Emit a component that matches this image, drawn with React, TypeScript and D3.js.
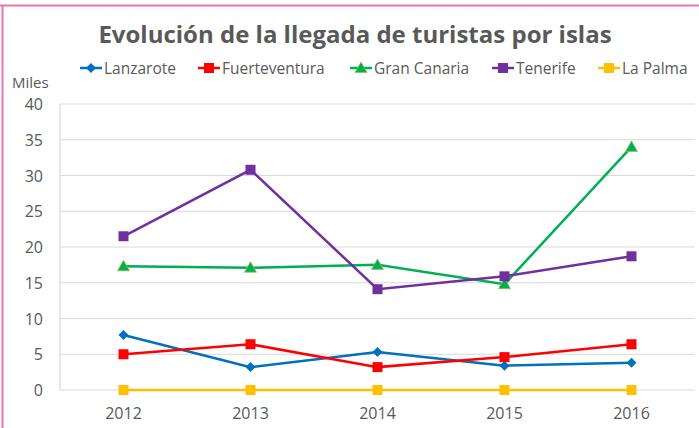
import React from "react";
import * as d3 from "d3";

const years = ["2012", "2013", "2014", "2015", "2016"];
const lanzarote = [7.7, 3.2, 5.3, 3.4, 3.8];
const fuerteventura = [5.0, 6.4, 3.2, 4.6, 6.4];
const granCanaria = [17.3, 17.1, 17.5, 14.8, 34.0];
const tenerife = [21.5, 30.8, 14.1, 15.9, 18.7];
const laPalma = [0, 0, 0, 0, 0];
const yTicks = [0, 5, 10, 15, 20, 25, 30, 35, 40];

const seriesNames = ["Lanzarote", "Fuerteventura", "Gran Canaria", "Tenerife", "La Palma"];
const seriesColors = ["#0070c0", "#ff0000", "#00b050", "#7030a0", "#ffc000"];
const seriesMarkers = ["diamond", "square", "triangle", "square", "square"];
const seriesData = [lanzarote, fuerteventura, granCanaria, tenerife, laPalma];

const W = 699, H = 428;
const FONT = "'Open Sans', 'Liberation Sans', sans-serif";

function Marker({ type, x, y, color }: { type: string; x: number; y: number; color: string }) {
  if (type === "diamond") {
    const s = 5;
    return <path d={`M${x},${y - s}L${x + s},${y}L${x},${y + s}L${x - s},${y}Z`} fill={color} />;
  }
  if (type === "triangle") {
    const s = 6;
    return <path d={`M${x},${y - s}L${x + s},${y + s * 0.75}L${x - s},${y + s * 0.75}Z`} fill={color} stroke="#9bbb59" strokeWidth={0.8} />;
  }
  const s = 5;
  return <rect x={x - s} y={y - s} width={2 * s} height={2 * s} fill={color} />;
}

export default function App() {
  const x = d3.scaleBand().domain(years).range([60, 695]);
  const y = d3.scaleLinear().domain([0, 40]).range([390, 104]);
  const cx = (yr: string) => (x(yr) as number) + x.bandwidth() / 2;
  const line = d3.line<number>().x((_, i) => cx(years[i])).y((v) => y(v));

  const legendX = [80, 198, 350, 492, 598];

  return (
    <svg width={W} height={H} style={{ position: "absolute", left: 0, top: 0, background: "#fff" }} fontFamily={FONT}>
      <line x1={0} x2={W} y1={5.5} y2={5.5} stroke="#e377b0" strokeWidth={2} />
      <line x1={2.5} x2={2.5} y1={5} y2={H} stroke="#e377b0" strokeWidth={2} />
      <text x={355} y={43} textAnchor="middle" fontSize={24} fontWeight="bold" fill="#595959">
        Evolución de la llegada de turistas por islas
      </text>
      {seriesNames.map((n, i) => (
        <g key={n} transform={`translate(${legendX[i]},68)`}>
          <line x1={0} x2={22} y1={0} y2={0} stroke={seriesColors[i]} strokeWidth={2.5} />
          <Marker type={seriesMarkers[i]} x={11} y={0} color={seriesColors[i]} />
          <text x={24} y={5.5} fontSize={15.5} fill="#595959">{n}</text>
        </g>
      ))}
      <text x={12} y={88} fontSize={15} fill="#595959">Miles</text>
      {yTicks.map((t) => (
        <g key={t}>
          <line x1={60} x2={695} y1={y(t)} y2={y(t)} stroke="#d9d9d9" strokeWidth={1.2} />
          <text x={43} y={y(t) + 6} textAnchor="end" fontSize={16} fill="#595959">{t}</text>
        </g>
      ))}
      <line x1={60} x2={60} y1={104} y2={390} stroke="#d9d9d9" strokeWidth={1.2} />
      {years.map((yr) => (
        <text key={yr} x={cx(yr)} y={419} textAnchor="middle" fontSize={16} fill="#595959">{yr}</text>
      ))}
      {seriesData.map((d, i) => (
        <g key={seriesNames[i]}>
          <path d={line(d) as string} fill="none" stroke={seriesColors[i]} strokeWidth={2.5} />
          {d.map((v, j) => (
            <Marker key={j} type={seriesMarkers[i]} x={cx(years[j])} y={y(v)} color={seriesColors[i]} />
          ))}
        </g>
      ))}
    </svg>
  );
}
